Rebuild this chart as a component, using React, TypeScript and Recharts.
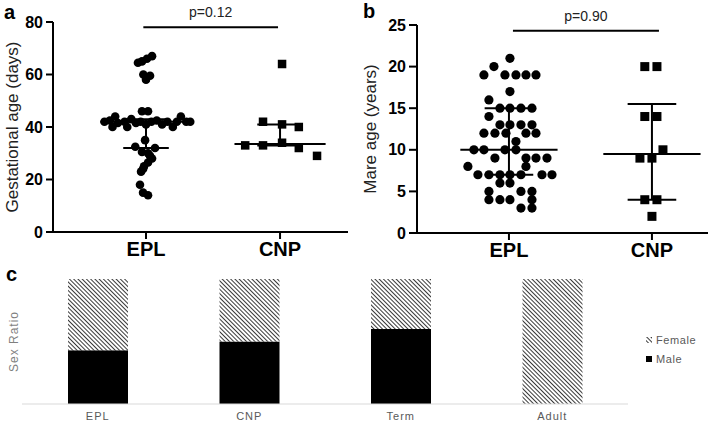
import React from 'react';
import {
    ScatterChart,
    Scatter,
    XAxis,
    YAxis,
    ReferenceLine,
    BarChart,
    Bar,
    Legend,
} from 'recharts';

const FONT = '"Liberation Sans", Arial, sans-serif';
const NARROW = '"Liberation Sans Narrow", "Liberation Sans", Arial, sans-serif';

const groups = ['EPL', 'CNP'];

// gestational age (days): [value, sideways spread of the dot inside its column]
const gestationEPL: [number, number][] = [
    [67, 0.045], [66, 0.007], [65, -0.03], [64.5, -0.06],
    [60, -0.02], [59.5, 0.03], [58, 0],
    [46, -0.03], [46, 0.015],
    [42, -0.31], [42.5, -0.27], [44, -0.23], [41.5, -0.21], [40, -0.25],
    [42, -0.16], [40, -0.14], [43, -0.11], [41.5, -0.075], [42, -0.04],
    [41, 0], [42, 0.04], [42.5, 0.08], [41, 0.12], [42, 0.16],
    [40, 0.2], [42, 0.23], [44, 0.26], [42, 0.3], [42, 0.33],
    [35, -0.007], [32.5, -0.08], [32, 0.067], [30.5, -0.03], [30, 0.015],
    [29, 0.03], [28, 0.045], [26.5, 0.015], [25, -0.015], [24, -0.022],
    [23, -0.037], [18, -0.045], [15, -0.022], [14, 0.015],
];
const gestationCNP: [number, number][] = [
    [64, 0.015], [42, -0.127], [41, 0.015], [40, 0.14],
    [33, -0.26], [33, -0.127], [34, 0.015], [32, 0.14], [29, 0.276],
];
const gestationMedian = [42, 33.5];
const gestationQ1 = [32, 33];
const gestationQ3 = [43, 41];

// mare age (years)
const mareEPL: [number, number][] = [
    [21, 0.007], [20, -0.105],
    [19, -0.175], [19, -0.028], [19, 0.049], [19, 0.119], [19, 0.189],
    [17, 0.007], [16, -0.14],
    [15, -0.063], [15, 0.007], [15, 0.084], [15, 0.161],
    [14, -0.14],
    [13, -0.063], [13, 0.007], [13, 0.084], [13, 0.161],
    [12, -0.175], [12, -0.098], [12, -0.021], [12, 0.119], [12, 0.189],
    [11, 0.049],
    [10, -0.245], [10, -0.175], [10, -0.028], [10, 0.049],
    [9, -0.098], [9, 0.119], [9, 0.189], [9, 0.266],
    [8, -0.287], [8, 0.119],
    [7, -0.217], [7, -0.14], [7, -0.063], [7, 0.007], [7, 0.084], [7, 0.231], [7, 0.301],
    [6, -0.063], [6, 0.007],
    [5, -0.14], [5, 0.084], [5, 0.161],
    [4, -0.14], [4, -0.063], [4, 0.007], [4, 0.161],
    [3, 0.084], [3, 0.161],
];
const mareCNP: [number, number][] = [
    [20, -0.05], [20, 0.035], [14, -0.05], [14, 0.035], [10, 0.077],
    [9, -0.084], [9, 0], [4, -0.05], [4, 0.035], [2, 0],
];
const mareMedian = [10, 9.5];
const mareQ1 = [7, 4];
const mareQ3 = [15, 15.5];

// sex ratio
const stages = ['EPL', 'CNP', 'Term', 'Adult'];
const maleShare = [0.43, 0.5, 0.6, 0];
const femaleShare = [0.57, 0.5, 0.4, 1];

const sexData = stages.map((stage, i) => ({ stage, Male: maleShare[i], Female: femaleShare[i] }));

const toPoints = (vals: [number, number][], g: number) => vals.map(([y, s]) => ({ x: g + s, y }));

const MED_HALF = 0.34;
const Q_HALF = 0.17;

function DotPlot(props: any) {
    const {
        width, height, margin, yWidth, xHeight, xDomain, yDomain, yTicks, yLabel, labelX,
        epl, cnp, med, q1, q3, pText, pY, pX, dotR, sq, tickSize,
    } = props;
    const line = { stroke: '#000', strokeWidth: 2 };
    return (
        <ScatterChart width={width} height={height} margin={margin}>
            <XAxis
                type="number"
                dataKey="x"
                domain={xDomain}
                ticks={[0, 1]}
                interval={0}
                allowDataOverflow
                tickFormatter={(v: number) => groups[v] ?? ''}
                height={xHeight}
                axisLine={line}
                tickLine={line}
                tickSize={7}
                tickMargin={3}
                tick={{ fill: '#000', fontSize: 20, fontWeight: 'bold', fontFamily: NARROW }}
            />
            <YAxis
                type="number"
                dataKey="y"
                domain={yDomain}
                ticks={yTicks}
                interval={0}
                width={yWidth}
                axisLine={line}
                tickLine={line}
                tickSize={tickSize}
                tickMargin={3}
                tick={{ fill: '#000', fontSize: 16, fontWeight: 'bold', fontFamily: FONT }}
                label={{
                    content: (p: any) => {
                        const vb = p.viewBox ?? { x: 0, y: margin.top, width: yWidth, height: height - margin.top - xHeight };
                        return (
                            <text
                                transform={`translate(${vb.x + labelX},${vb.y + vb.height / 2}) rotate(-90)`}
                                textAnchor="middle"
                                dominantBaseline="central"
                                fill="#222"
                                fontSize={17}
                                fontFamily={FONT}
                            >
                                {yLabel}
                            </text>
                        );
                    },
                }}
            />
            <ReferenceLine
                segment={[{ x: pX[0], y: pY }, { x: pX[1], y: pY }]}
                stroke="#000"
                strokeWidth={2}
                label={{ value: pText, position: 'top', offset: 10, fill: '#222', fontSize: 14, fontFamily: FONT }}
            />
            <Scatter
                data={toPoints(epl, 0)}
                isAnimationActive={false}
                shape={(p: any) => <circle cx={p.cx} cy={p.cy} r={dotR} fill="#000" />}
            />
            <Scatter
                data={toPoints(cnp, 1)}
                isAnimationActive={false}
                shape={(p: any) => <rect x={p.cx - sq / 2} y={p.cy - sq / 2} width={sq} height={sq} fill="#000" />}
            />
            {[0, 1].map((g) => (
                <ReferenceLine key={`m${g}`} segment={[{ x: g - MED_HALF, y: med[g] }, { x: g + MED_HALF, y: med[g] }]} {...line} />
            ))}
            {[0, 1].map((g) => (
                <ReferenceLine key={`q1${g}`} segment={[{ x: g - Q_HALF, y: q1[g] }, { x: g + Q_HALF, y: q1[g] }]} {...line} />
            ))}
            {[0, 1].map((g) => (
                <ReferenceLine key={`q3${g}`} segment={[{ x: g - Q_HALF, y: q3[g] }, { x: g + Q_HALF, y: q3[g] }]} {...line} />
            ))}
            {[0, 1].map((g) => (
                <ReferenceLine key={`v${g}`} segment={[{ x: g, y: q1[g] }, { x: g, y: q3[g] }]} {...line} />
            ))}
        </ScatterChart>
    );
}

const panelLetter = (left: number, top: number, text: string) => (
    <div style={{ position: 'absolute', left, top, fontFamily: FONT, fontWeight: 'bold', fontSize: 20, lineHeight: '20px', color: '#000' }}>
        {text}
    </div>
);

const legendRows = [
    { name: 'Female', fill: 'url(#femaleHatch)' },
    { name: 'Male', fill: '#000' },
];

export default function App() {
    return (
        <div style={{ position: 'absolute', left: 0, top: 0, width: 709, height: 423, background: '#fff', overflow: 'hidden' }}>
            <div style={{ position: 'absolute', left: 0, top: 0 }}>
                <DotPlot
                    width={360}
                    height={265}
                    margin={{ top: 22, right: 12, bottom: 0, left: 0 }}
                    yWidth={53}
                    xHeight={33}
                    xDomain={[-0.694, 1.507]}
                    yDomain={[0, 80]}
                    yTicks={[0, 20, 40, 60, 80]}
                    yLabel="Gestational age (days)"
                    labelX={12}
                    epl={gestationEPL}
                    cnp={gestationCNP}
                    med={gestationMedian}
                    q1={gestationQ1}
                    q3={gestationQ3}
                    pText="p=0.12"
                    pY={78}
                    pX={[-0.02, 0.985]}
                    dotR={4.3}
                    sq={8.5}
                    tickSize={7}
                />
            </div>
            <div style={{ position: 'absolute', left: 350, top: 0 }}>
                <DotPlot
                    width={359}
                    height={265}
                    margin={{ top: 25, right: 1, bottom: 0, left: 0 }}
                    yWidth={67}
                    xHeight={32}
                    xDomain={[-0.643, 1.392]}
                    yDomain={[0, 25]}
                    yTicks={[0, 5, 10, 15, 20, 25]}
                    yLabel="Mare age (years)"
                    labelX={20}
                    epl={mareEPL}
                    cnp={mareCNP}
                    med={mareMedian}
                    q1={mareQ1}
                    q3={mareQ3}
                    pText="p=0.90"
                    pY={24.3}
                    pX={[0.028, 1.049]}
                    dotR={4.6}
                    sq={9}
                    tickSize={8}
                />
            </div>
            <div style={{ position: 'absolute', left: 0, top: 240 }}>
                <BarChart width={709} height={183} data={sexData} margin={{ top: 39, right: 81, bottom: 0, left: 0 }}>
                    <defs>
                        <pattern id="femaleHatch" patternUnits="userSpaceOnUse" width="3" height="3" patternTransform="rotate(-45)">
                            <rect width="3" height="3" fill="#fff" />
                            <line x1="0" y1="0" x2="0" y2="3" stroke="#222" strokeWidth="1.8" />
                        </pattern>
                    </defs>
                    <XAxis
                        dataKey="stage"
                        axisLine={{ stroke: '#d9d9d9', strokeWidth: 1 }}
                        tickLine={false}
                        tickSize={0}
                        height={19}
                        tickMargin={8}
                        tick={{ fill: '#595959', fontSize: 11, letterSpacing: 1, fontFamily: FONT }}
                    />
                    <YAxis
                        domain={[0, 1]}
                        width={22}
                        tick={false}
                        tickLine={false}
                        axisLine={false}
                        label={{
                            content: (p: any) => {
                                const vb = p.viewBox ?? { x: 0, y: 39, width: 22, height: 125 };
                                return (
                                    <text
                                        transform={`translate(${vb.x + 14},${vb.y + vb.height / 2}) rotate(-90)`}
                                        textAnchor="middle"
                                        dominantBaseline="central"
                                        fill="#7f7f7f"
                                        fontSize={12}
                                        letterSpacing={1}
                                        fontFamily={FONT}
                                    >
                                        Sex Ratio
                                    </text>
                                );
                            },
                        }}
                    />
                    <Legend
                        layout="vertical"
                        align="center"
                        verticalAlign="middle"
                        wrapperStyle={{ left: 645, top: 90, width: 64 }}
                        content={() => (
                            <div style={{ fontFamily: FONT, fontSize: 11, color: '#595959', letterSpacing: 0.6 }}>
                                {legendRows.map((r) => (
                                    <div key={r.name} style={{ display: 'flex', alignItems: 'center', height: 19 }}>
                                        <svg width="9" height="8" style={{ marginRight: 2 }}>
                                            <rect x="1" y="1" width="6" height="6" fill={r.fill} />
                                        </svg>
                                        <span>{r.name}</span>
                                    </div>
                                ))}
                            </div>
                        )}
                    />
                    <Bar dataKey="Male" stackId="s" fill="#000" barSize={60} isAnimationActive={false} />
                    <Bar dataKey="Female" stackId="s" fill="url(#femaleHatch)" barSize={60} isAnimationActive={false} />
                </BarChart>
            </div>
            {panelLetter(4, 2, 'a')}
            {panelLetter(363, 1, 'b')}
            {panelLetter(6, 264, 'c')}
        </div>
    );
}
